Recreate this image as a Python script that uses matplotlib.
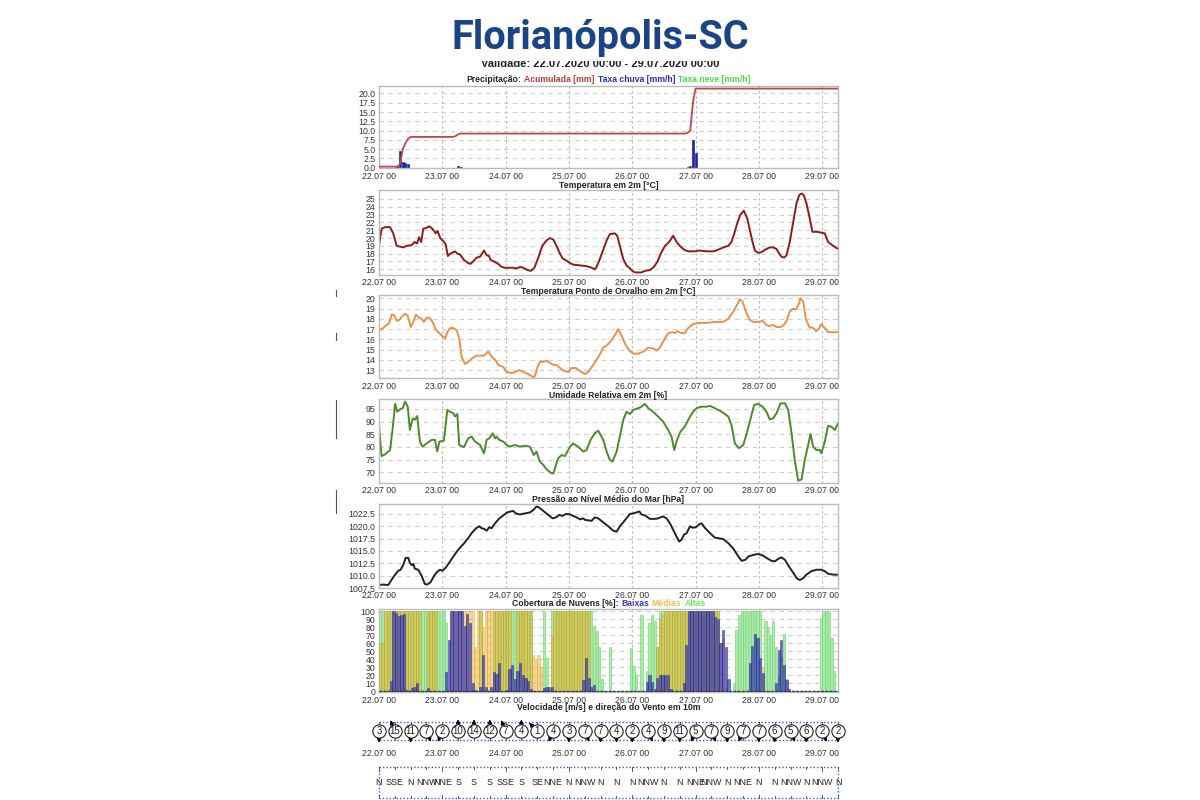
import numpy as np
import matplotlib
matplotlib.use("Agg")
import matplotlib.pyplot as plt
from matplotlib.lines import Line2D
from matplotlib.patches import Rectangle

plt.rcParams['font.family'] = ['Liberation Sans', 'DejaVu Sans']

# ---------------- DATA ----------------
day_labels = ['22.07 00', '23.07 00', '24.07 00', '25.07 00', '26.07 00', '27.07 00', '28.07 00', '29.07 00']
day_hours = [0, 24, 48, 72, 96, 120, 144, 168]

# precipitation
acc_h = [0, 7, 8, 9, 10, 11, 12, 28, 29, 30, 31, 116, 117, 118, 119, 120, 174]
acc_v = [0.3, 0.3, 1.0, 5.0, 6.6, 7.8, 8.3, 8.3, 8.5, 9.0, 9.2, 9.2, 9.4, 10.0, 17.5, 21.3, 21.3]
rain_h = [7, 8, 9, 10, 11, 30, 31, 117, 118, 119, 120]
rain_v = [0.6, 4.6, 1.6, 1.4, 1.0, 0.6, 0.3, 0.2, 0.4, 7.5, 4.0]

# temperature 2m
temp_h = [0, 1, 2.3, 4.2, 5.4, 6.7, 8, 9.2, 10.5, 12.4, 13.5, 14.4, 15.2, 16, 16.8, 18, 19, 19.9, 20.9, 21.5,
          22.2, 23.2, 24.4, 25.3, 26.1, 27, 28.8, 29.7, 30.7, 32.2, 33.8, 34.7, 35.7, 37, 38.3, 39.8, 40.8,
          41.7, 42.3, 43.6, 45.2, 46.5, 47.7, 50.9, 52.2, 53.4, 54.7, 56.3, 57.6, 58.9, 60.4, 61.9, 63.5,
          64.8, 66.1, 67.3, 68.6, 69.6, 71.1, 72.4, 73.6, 76.2, 78.7, 80.6, 81.8, 82.5, 83.7, 85, 86.3, 87.5,
          89.4, 90.3, 91.3, 92.6, 93.8, 94.9, 96, 97, 99.5, 100.8, 102.7, 104.2, 105.6, 106.8, 108.4, 110,
          111.5, 112.8, 114, 115.7, 117.2, 119.7, 121.6, 124.2, 126.7, 128.6, 130.5, 132.4, 133.6, 134.6,
          135.9, 137, 138.3, 139.6, 140.6, 141.6, 142.5, 143.7, 145, 146.3, 148.1, 149.4, 150.7, 151.7,
          152.6, 153.6, 154.5, 155.7, 157, 158.3, 159.3, 160.2, 161, 162, 163.3, 164.3, 165.8, 167.7, 169,
          170.2, 172.2, 174]
temp_v = [19.1, 21.2, 21.4, 21.4, 20.6, 19.0, 18.9, 18.8, 19.0, 19.1, 19.5, 19.3, 20.1, 19.5, 21.2, 21.3,
          21.5, 21.3, 20.9, 20.6, 20.9, 20.0, 19.6, 19.2, 17.7, 18.0, 18.3, 18.0, 17.9, 17.2, 16.8, 16.7,
          17.0, 17.5, 17.6, 18.4, 17.8, 17.7, 17.2, 17.0, 16.7, 16.3, 16.2, 16.2, 16.1, 16.3, 16.2, 15.9,
          15.8, 16.2, 17.5, 19.0, 19.7, 20.0, 19.8, 19.0, 18.0, 17.4, 17.1, 16.8, 16.6, 16.5, 16.4, 16.2,
          16.0, 16.3, 17.3, 18.5, 19.7, 20.5, 20.6, 20.3, 19.0, 17.3, 16.5, 16.2, 15.8, 15.6, 15.6, 15.8,
          15.9, 16.3, 17.0, 18.0, 19.0, 19.5, 20.3, 19.5, 19.0, 18.5, 18.3, 18.3, 18.4, 18.3, 18.3, 18.5,
          18.8, 19.0, 19.5, 20.5, 22.0, 23.0, 23.5, 22.5, 21.0, 19.5, 18.4, 18.1, 18.2, 18.5, 18.8, 18.8,
          18.6, 18.0, 17.6, 17.5, 17.8, 19.5, 22.0, 24.5, 25.5, 25.7, 25.5, 24.5, 22.5, 20.8, 20.8, 20.7,
          20.6, 19.5, 19.0, 18.6]

# dew point 2m
dew_h = [0, 1, 2.9, 3.9, 4.8, 5.7, 6.7, 7.7, 8.6, 9.9, 10.9, 12.0, 12.8, 14.0, 15.3, 16.2, 17.0, 18.1, 19.1,
         20.3, 21.6, 22.9, 24.1, 25.1, 25.9, 26.9, 28.2, 29.4, 30.4, 31.3, 32.6, 33.8, 35.1, 36.8, 38.3, 39.8,
         41.4, 42.7, 44.0, 45.2, 47.1, 48.4, 50.3, 51.5, 53.2, 54.7, 56.6, 58.5, 59.1, 60.1, 61.0, 62.3, 63.5,
         64.8, 66.1, 67.3, 68.6, 70.1, 71.7, 73.0, 74.6, 76.2, 78.1, 79.3, 81.2, 82.5, 83.7, 85.0, 86.3, 87.8,
         89.4, 90.7, 91.9, 93.2, 94.9, 96.4, 98.3, 100.2, 102.1, 103.9, 105.2, 106.5, 108.4, 109.6, 111.1,
         112.2, 113.0, 114.7, 115.9, 117.2, 119.1, 121.6, 124.2, 127.3, 130.5, 132.4, 134.3, 135.6, 136.8,
         137.8, 139.1, 140.6, 141.9, 143.7, 145.4, 146.9, 148.1, 149.4, 150.7, 152.2, 153.5, 154.5, 155.7,
         157.0, 158.0, 158.9, 159.8, 160.8, 161.8, 163.1, 164.6, 165.8, 166.9, 167.7, 169.0, 170.2, 172.2, 174]
dew_v = [16.9, 17.0, 17.4, 17.6, 18.4, 18.4, 17.8, 17.9, 18.2, 18.5, 18.3, 17.2, 17.6, 18.4, 18.1, 18.0, 17.7,
         18.1, 18.1, 17.7, 16.9, 16.6, 16.3, 16.1, 16.7, 17.1, 17.1, 16.9, 16.1, 14.3, 13.6, 13.8, 14.1, 14.4,
         14.4, 14.4, 14.8, 14.3, 14.0, 13.5, 13.3, 12.8, 12.7, 12.8, 13.0, 12.8, 12.6, 12.3, 12.4, 13.3, 13.8,
         13.8, 13.9, 13.7, 13.5, 13.5, 13.2, 12.9, 12.8, 13.2, 13.2, 12.9, 12.6, 12.8, 13.5, 14.0, 14.5, 15.2,
         15.4, 15.8, 16.4, 17.0, 16.4, 15.6, 14.9, 14.6, 14.6, 14.8, 15.2, 15.1, 14.9, 15.2, 16.1, 16.6, 16.7,
         16.6, 16.8, 16.6, 16.6, 17.1, 17.5, 17.6, 17.6, 17.7, 17.7, 18.0, 18.7, 19.3, 19.9, 19.7, 18.7, 17.9,
         17.7, 17.7, 17.8, 17.4, 17.3, 17.4, 17.2, 17.2, 17.4, 17.8, 18.7, 19.0, 18.9, 19.3, 20.0, 19.7, 18.0,
         17.2, 17.1, 16.8, 17.1, 17.5, 17.1, 16.7, 16.7, 16.7]

# relative humidity 2m
rh_h = [0, 1.0, 2.3, 4.2, 5.2, 6.1, 6.9, 8.0, 9.0, 9.9, 10.9, 11.7, 12.8, 13.6, 14.5, 15.5, 16.5, 18.1, 20.0,
        21.2, 22.1, 22.9, 24.6, 25.9, 26.9, 28.2, 28.8, 29.7, 30.4, 32.2, 33.8, 35.1, 36.4, 38.3, 39.8, 40.8,
        41.8, 43.1, 44.0, 44.6, 45.6, 47.1, 48.4, 49.6, 51.5, 53.4, 55.3, 57.2, 58.7, 59.7, 61.0, 62.3, 63.5,
        65.4, 66.1, 66.7, 67.9, 69.2, 70.5, 72.4, 73.6, 75.5, 77.4, 78.7, 80.2, 81.8, 83.1, 85.0, 86.3, 87.5,
        88.5, 90.1, 91.3, 92.6, 93.8, 95.1, 96.4, 98.3, 99.5, 100.8, 102.1, 103.9, 105.8, 107.7, 109.6, 110.9,
        111.9, 113.0, 114.3, 115.9, 117.9, 119.1, 120.4, 122.3, 124.2, 125.5, 127.3, 129.9, 132.4, 133.6,
        134.9, 136.5, 138.1, 139.6, 140.9, 142.2, 143.7, 145.4, 146.9, 148.1, 149.4, 150.7, 152.2, 153.9,
        155.1, 156.4, 157.6, 158.9, 160.2, 161.4, 162.7, 163.6, 164.6, 165.8, 167.1, 167.7, 169.0, 170.2,
        171.5, 172.8, 174]
rh_v = [88.0, 76.4, 77.1, 78.8, 87.4, 97.0, 93.9, 94.9, 95.3, 97.9, 95.9, 86.7, 91.3, 90.7, 92.2, 82.1, 80.1,
        81.4, 82.8, 82.8, 78.2, 82.1, 82.5, 94.6, 93.9, 93.3, 92.0, 93.0, 80.8, 79.9, 83.4, 84.1, 82.1, 80.8,
        77.5, 82.8, 83.4, 85.4, 83.4, 84.1, 82.8, 82.1, 80.8, 80.1, 80.8, 80.1, 80.5, 80.1, 76.8, 78.2, 74.2,
        72.9, 71.2, 69.6, 69.6, 71.6, 75.5, 76.8, 76.4, 80.1, 81.4, 80.1, 78.2, 78.8, 82.8, 85.4, 86.4, 82.8,
        78.2, 74.9, 74.2, 78.2, 84.1, 90.7, 93.9, 93.0, 94.6, 95.3, 95.9, 97.0, 95.3, 93.9, 92.0, 90.0, 86.7,
        84.1, 78.8, 82.8, 86.1, 88.0, 92.0, 93.9, 95.3, 95.9, 95.9, 96.2, 95.3, 93.9, 92.0, 88.7, 81.4, 79.5,
        80.8, 86.1, 91.3, 96.6, 97.0, 95.9, 93.9, 90.9, 91.3, 93.3, 97.2, 97.2, 94.6, 85.4, 74.9, 66.7, 67.2,
        74.9, 80.8, 85.1, 80.1, 78.8, 78.8, 77.5, 82.1, 88.3, 88.0, 86.7, 89.3]

# sea level pressure
pr_h = [0, 1.6, 3.5, 4.8, 6.1, 7.3, 8.2, 9.2, 10.1, 11.1, 11.7, 12.4, 13.0, 13.6, 14.9, 16.2, 17.4, 18.3, 19.6,
        20.8, 22.1, 23.1, 24.1, 25.4, 26.6, 28.2, 30.1, 32.0, 33.8, 35.1, 36.8, 38.0, 38.9, 39.8, 40.8, 41.8,
        42.7, 44.0, 45.6, 47.1, 48.6, 49.9, 50.9, 51.9, 53.4, 55.3, 57.2, 58.5, 59.7, 60.7, 62.3, 64.2, 65.8,
        67.1, 68.3, 69.6, 70.9, 72.4, 73.6, 74.9, 76.2, 77.4, 78.1, 79.3, 80.6, 81.8, 83.1, 85.0, 86.9, 88.8,
        90.1, 91.3, 92.6, 93.8, 95.1, 96.4, 97.6, 98.7, 99.5, 100.8, 102.7, 104.6, 105.8, 107.7, 109.0, 110.3,
        111.5, 112.8, 113.8, 114.7, 115.6, 116.6, 117.9, 118.9, 120.1, 121.4, 122.3, 123.5, 125.5, 127.3,
        128.6, 130.5, 132.4, 134.3, 136.2, 137.5, 138.8, 140.1, 141.9, 143.7, 145.4, 146.9, 148.8, 150.1,
        151.3, 152.6, 153.9, 155.1, 157.0, 158.3, 159.5, 160.8, 162.0, 163.9, 165.8, 167.7, 169.0, 170.2,
        172.2, 174]
pr_v = [1008.1, 1008.2, 1008.1, 1009.2, 1010.2, 1011.0, 1011.2, 1012.2, 1013.6, 1013.6, 1012.6, 1012.1,
        1012.4, 1011.4, 1011.2, 1009.9, 1008.3, 1008.2, 1008.7, 1009.9, 1010.8, 1011.2, 1011.0, 1011.7,
        1012.6, 1013.9, 1015.3, 1016.4, 1017.6, 1018.6, 1019.6, 1020.0, 1019.6, 1019.5, 1019.1, 1019.8,
        1019.6, 1020.6, 1021.6, 1022.2, 1022.8, 1023.0, 1023.1, 1022.6, 1022.4, 1022.6, 1022.8, 1023.3,
        1024.0, 1023.8, 1023.1, 1022.3, 1021.6, 1021.8, 1022.3, 1022.1, 1022.5, 1022.4, 1022.1, 1021.8,
        1021.4, 1021.6, 1021.3, 1021.2, 1021.1, 1021.8, 1021.6, 1020.8, 1020.0, 1019.1, 1018.9, 1020.0,
        1020.8, 1021.6, 1022.5, 1022.6, 1022.8, 1023.0, 1022.4, 1022.2, 1021.5, 1021.5, 1021.6, 1022.0,
        1021.6, 1020.6, 1019.3, 1017.9, 1016.9, 1017.3, 1018.3, 1018.6, 1020.0, 1019.7, 1019.8, 1020.4,
        1020.6, 1019.7, 1018.6, 1017.7, 1017.6, 1017.4, 1016.6, 1015.5, 1013.9, 1013.0, 1013.2, 1013.9,
        1014.2, 1014.4, 1014.1, 1013.6, 1013.0, 1012.9, 1013.4, 1013.7, 1013.2, 1012.1, 1010.6, 1009.5,
        1009.1, 1009.5, 1010.2, 1010.9, 1011.2, 1011.2, 1010.9, 1010.4, 1010.2, 1010.2]

# cloud cover [%], hourly (hour 0 .. 173)
altas = [100, 100, 100, 100, 100, 100, 100, 100, 100, 100, 100, 100,
         100, 100, 100, 100, 100, 100, 100, 100, 100, 100, 100, 100,
         100, 85, 0, 0, 0, 0, 0, 0, 0, 0, 0, 0,
         0, 0, 100, 0, 0, 0, 0, 100, 100, 100, 100, 100,
         100, 100, 100, 100, 100, 100, 100, 100, 100, 100, 0, 0,
         0, 0, 100, 42, 0, 100, 100, 100, 100, 100, 100, 100,
         100, 100, 100, 100, 100, 100, 100, 100, 100, 82, 75, 55,
         15, 0, 0, 55, 0, 0, 0, 0, 0, 0, 0, 54,
         32, 20, 0, 95, 0, 25, 85, 95, 88, 55, 100, 100,
         100, 100, 100, 100, 100, 100, 100, 100, 100, 100, 100, 100,
         100, 100, 100, 100, 100, 100, 100, 100, 100, 0, 0, 0,
         0, 0, 10, 77, 95, 100, 100, 100, 100, 100, 100, 100,
         100, 0, 88, 80, 70, 88, 55, 20, 43, 72, 15, 0,
         0, 0, 0, 0, 0, 0, 0, 0, 0, 0, 0, 92,
         100, 100, 100, 67, 25, 0]
medias = [60, 60, 100, 100, 100, 100, 100, 100, 100, 100, 100, 100,
          100, 100, 100, 100, 0, 0, 100, 100, 100, 100, 0, 0,
          0, 0, 0, 100, 100, 100, 100, 100, 100, 100, 100, 100,
          55, 100, 100, 80, 100, 100, 100, 100, 100, 100, 100, 100,
          100, 100, 0, 0, 100, 100, 100, 100, 100, 100, 45, 40,
          45, 30, 0, 0, 0, 70, 100, 100, 100, 100, 100, 100,
          100, 100, 100, 100, 100, 100, 100, 100, 0, 0, 0, 0,
          0, 0, 0, 0, 0, 0, 0, 0, 0, 0, 0, 0,
          0, 0, 0, 0, 0, 0, 0, 0, 0, 55, 90, 95,
          100, 100, 100, 100, 100, 100, 100, 100, 100, 100, 100, 100,
          100, 100, 100, 100, 100, 100, 100, 100, 100, 60, 65, 5,
          0, 0, 0, 0, 0, 0, 0, 0, 0, 0, 0, 0,
          0, 30, 0, 0, 0, 0, 0, 0, 0, 0, 0, 0,
          0, 0, 0, 0, 0, 0, 0, 0, 0, 0, 0, 0,
          0, 0, 0, 0, 0, 0]
baixas = [0, 0, 0, 0, 13, 100, 98, 94, 96, 97, 2, 0,
          4, 5, 11, 0, 0, 0, 4, 0, 0, 0, 0, 0,
          0, 24, 64, 100, 100, 100, 100, 100, 82, 97, 85, 10,
          2, 0, 5, 46, 5, 0, 5, 24, 22, 36, 0, 1,
          2, 28, 33, 15, 26, 35, 20, 17, 13, 3, 0, 0,
          0, 0, 4, 5, 6, 5, 0, 0, 0, 0, 0, 0,
          0, 0, 0, 0, 0, 14, 42, 17, 6, 8, 0, 0,
          0, 0, 0, 0, 0, 0, 0, 0, 0, 0, 0, 0,
          0, 0, 0, 0, 0, 12, 21, 12, 3, 17, 21, 20,
          20, 20, 3, 0, 0, 0, 0, 10, 58, 100, 100, 100,
          100, 100, 100, 100, 100, 100, 100, 93, 90, 60, 77, 55,
          15, 0, 0, 0, 0, 0, 0, 0, 35, 57, 72, 67,
          42, 23, 0, 0, 0, 0, 10, 52, 64, 33, 14, 3,
          0, 0, 0, 0, 0, 0, 0, 0, 0, 0, 0, 0,
          0, 0, 0, 0, 0, 0]

# wind every 6 h
wind_h = [0, 6, 12, 18, 24, 30, 36, 42, 48, 54, 60, 66, 72, 78, 84, 90, 96, 102, 108, 114, 120, 126, 132,
          138, 144, 150, 156, 162, 168, 174]
wind_speed = [3, 15, 11, 7, 2, 10, 14, 12, 7, 4, 1, 4, 3, 7, 7, 4, 2, 4, 9, 11, 5, 7, 9, 7, 7, 6, 5, 6, 2, 2]
wind_dir = ['N', 'SSE', 'N', 'NNW', 'NNE', 'S', 'S', 'S', 'SSE', 'S', 'SE', 'NNE', 'N', 'NNW', 'N', 'N', 'N',
            'NNW', 'N', 'N', 'NNE', 'NNW', 'N', 'NNE', 'N', 'N', 'NNW', 'N', 'NNW', 'N']
compass = {'N': 0, 'NNE': 22.5, 'NE': 45, 'ENE': 67.5, 'E': 90, 'ESE': 112.5, 'SE': 135, 'SSE': 157.5,
           'S': 180, 'SSW': 202.5, 'SW': 225, 'WSW': 247.5, 'W': 270, 'WNW': 292.5, 'NW': 315, 'NNW': 337.5}

# ---------------- FIGURE ----------------
W, H = 1200, 800
fig = plt.figure(figsize=(12, 8), dpi=100)
fig.patch.set_facecolor('white')

X0, X1 = 379, 838
XMAX = 174


def fx(px):
    return px / W


def fy(py):
    return 1 - py / H


def make_ax(top, bottom):
    ax = fig.add_axes([fx(X0), fy(bottom), fx(X1 - X0), (bottom - top) / H])
    ax.set_xlim(0, XMAX)
    ax.set_xticks(day_hours)
    ax.set_xticklabels(day_labels)
    ax.tick_params(length=0, labelsize=6.3, colors='#333333', pad=2.5)
    for s in ax.spines.values():
        s.set_color('#bbbbbb')
        s.set_linewidth(1.0)
    ax.grid(axis='y', color='#cfcfcf', ls=(0, (4, 4)), lw=0.8)
    ax.grid(axis='x', color='#b5b5b5', ls=(0, (2, 2.5)), lw=0.8)
    ax.set_axisbelow(True)
    return ax


renderer = fig.canvas.get_renderer()


def title_parts(parts, ypx, fs=6.2):
    texts = []
    widths = []
    for s, c in parts:
        t = fig.text(0, fy(ypx), s, color=c, fontsize=fs, fontweight='bold', ha='left', va='center')
        texts.append(t)
        widths.append(t.get_window_extent(renderer).width)
    gap = 3.0
    total = sum(widths) + gap * (len(parts) - 1)
    x = (X0 + X1) / 2 - total / 2
    for t, w in zip(texts, widths):
        t.set_x(fx(x))
        x += w + gap


# title and validity (validity line partly hidden behind the title block)
fig.text(0.5, fy(64), 'Validade: 22.07.2020 00:00 - 29.07.2020 00:00', ha='center', va='center',
         fontsize=8, fontweight='bold', color='#222222', zorder=1)
fig.patches.append(Rectangle((fx(430), fy(60.5)), fx(340), 60.5 / H, transform=fig.transFigure,
                             facecolor='white', edgecolor='none', zorder=2))
fig.text(0.5, fy(38), 'Florianópolis-SC', ha='center', va='center', fontsize=28.6,
         fontweight='bold', family=['Roboto', 'DejaVu Sans'], color='#1b4486', zorder=3)

# 1 precipitation
ax1 = make_ax(86, 168.3)
ax1.bar(rain_h, rain_v, width=0.75, color='#1e1eb4', edgecolor='#10108a', lw=0.4, zorder=2)
ax1.plot(acc_h, acc_v, color='#b84a4a', lw=1.3, zorder=3)
ax1.set_ylim(-0.15, 22)
ax1.set_yticks([0, 2.5, 5, 7.5, 10, 12.5, 15, 17.5, 20])
ax1.set_yticklabels(['%.1f' % v for v in [0, 2.5, 5, 7.5, 10, 12.5, 15, 17.5, 20]])
title_parts([('Precipitação:', '#222222'), ('Acumulada [mm]', '#c03a3a'), ('Taxa chuva [mm/h]', '#2a2ac0'),
             ('Taxa neve [mm/h]', '#44dd44')], 80)

# 2 temperature
ax2 = make_ax(190, 275)
ax2.plot(temp_h, temp_v, color='#8e1c1c', lw=1.4)
ax2.set_ylim(15.27, 26.15)
ax2.set_yticks(list(range(16, 26)))
title_parts([('Temperatura em 2m [°C]', '#222222')], 186)

# 3 dew point
ax3 = make_ax(295, 378.3)
ax3.plot(dew_h, dew_v, color='#e8934a', lw=1.4)
ax3.set_ylim(12.19, 20.33)
ax3.set_yticks(list(range(13, 21)))
title_parts([('Temperatura Ponto de Orvalho em 2m [°C]', '#222222')], 291)

# 4 relative humidity
ax4 = make_ax(399.3, 482.7)
ax4.plot(rh_h, rh_v, color='#4d8a2c', lw=1.4)
ax4.set_ylim(65.9, 98.8)
ax4.set_yticks([70, 75, 80, 85, 90, 95])
title_parts([('Umidade Relativa em 2m [%]', '#222222')], 395)

# 5 pressure
ax5 = make_ax(504.3, 588)
ax5.plot(pr_h, pr_v, color='#222222', lw=1.4)
ax5.set_ylim(1007.5, 1024.45)
pt = [1007.5, 1010, 1012.5, 1015, 1017.5, 1020, 1022.5]
ax5.set_yticks(pt)
ax5.set_yticklabels(['%.1f' % v for v in pt])
title_parts([('Pressão ao Nível Médio do Mar [hPa]', '#222222')], 499)

# 6 clouds
ax6 = make_ax(608.7, 692.3)
hrs = np.arange(len(altas)) + 0.5
ax6.bar(hrs, altas, width=0.85, color='#a6eea6', edgecolor='#72d072', lw=0.4, zorder=2)
ax6.bar(hrs, medias, width=0.85, color='#f5af19', alpha=0.5, edgecolor='#d09020', lw=0.4, zorder=3)
ax6.bar(hrs, baixas, width=0.85, color='#3a3ac8', alpha=0.75, edgecolor='#22226e', lw=0.4, zorder=4)
ax6.axhline(0, color='#333355', lw=1.0, ls=(0, (2, 1)), zorder=5)
ax6.set_ylim(-1.2, 103.3)
ax6.set_yticks(list(range(0, 101, 10)))
title_parts([('Cobertura de Nuvens [%]:', '#222222'), ('Baixas', '#3a3acc'), ('Médias', '#f0c050'),
             ('Altas', '#66ee66')], 604)

# 7 wind
title_parts([('Velocidade [m/s] e direção do Vento em 10m', '#222222')], 707)
axw = fig.add_axes([fx(X0 - 10), 0, fx(X1 - X0 + 20), 85 / H])
xpad = 10 / ((X1 - X0) / XMAX)
axw.set_xlim(-xpad, XMAX + xpad)
axw.set_ylim(800, 715)
axw.axis('off')

boxc = '#3a5cb4'
for (y0, y1) in [(722, 740), (767, 798)]:
    axw.plot([0, XMAX, XMAX, 0, 0], [y0, y0, y1, y1, y0], color=boxc, lw=1.0, ls=(0, (1, 1.5)),
             clip_on=False, zorder=1)
    for h in wind_h:
        L = 3.5 if h % 24 == 0 else 2
        axw.plot([h, h], [y0, y0 + L], color=boxc, lw=0.7, zorder=1)
        axw.plot([h, h], [y1, y1 - L], color=boxc, lw=0.7, zorder=1)

yc = 731
for h, sp, d in zip(wind_h, wind_speed, wind_dir):
    ang = np.deg2rad(compass[d])
    L = 8.4
    dx, dy = -np.sin(ang) * L, -np.cos(ang) * L
    axw.annotate('', xy=(h, yc), xytext=(dx, dy), textcoords='offset points',
                 arrowprops=dict(arrowstyle='<|-,head_length=0.25,head_width=0.13', color='black', lw=0.8,
                                 shrinkA=0, shrinkB=0), zorder=2)
axw.scatter(wind_h, [yc] * len(wind_h), s=92, facecolor='white', edgecolor='#222222', lw=0.8, zorder=3)
for h, sp in zip(wind_h, wind_speed):
    axw.text(h, yc, str(sp), ha='center', va='center', fontsize=7, color='#222222', zorder=4)
for h, lab in zip(day_hours, day_labels):
    axw.text(h, 754, lab, ha='center', va='center', fontsize=6.3, color='#333333')
for h, d in zip(wind_h, wind_dir):
    axw.text(h, 782.5, d, ha='center', va='center', fontsize=6.4, color='#222222', zorder=4)

# small marks at the left edge of the screenshot
for (a, b) in [(290, 296), (333, 340), (400, 438), (490, 513)]:
    fig.add_artist(Line2D([fx(336), fx(336)], [fy(a), fy(b)], color='#555555', lw=0.8))

fig.savefig('out.png', dpi=100, facecolor='white')
